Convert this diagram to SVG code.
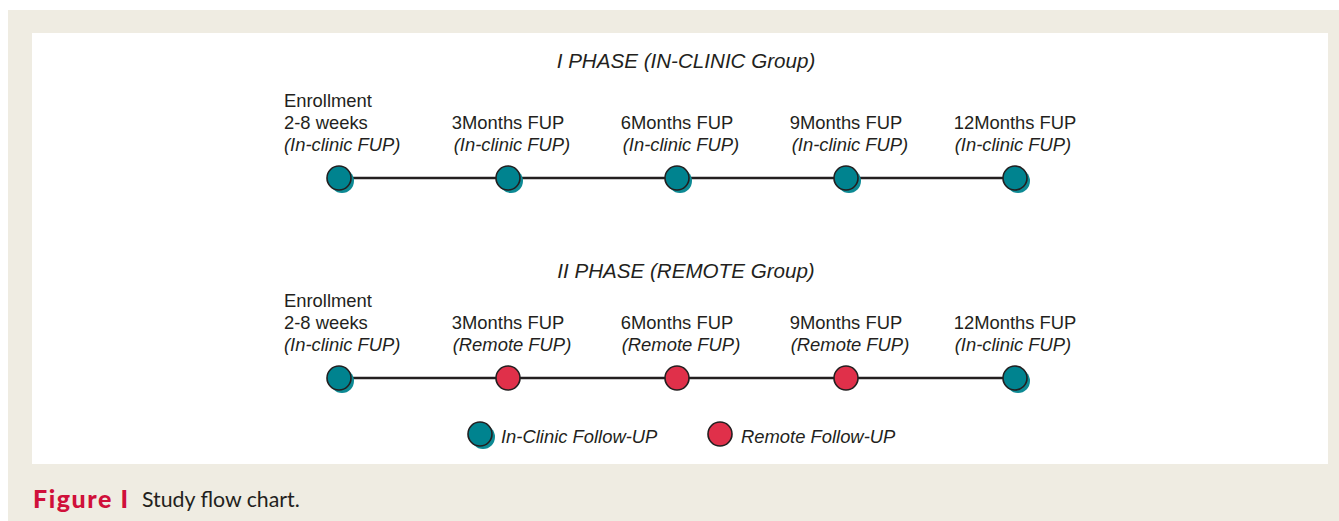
<svg xmlns="http://www.w3.org/2000/svg" width="1339" height="521" viewBox="0 0 1339 521">
<defs>
<style>
.t{font-family:"Liberation Sans",Arial,sans-serif;font-size:18.4px;fill:#231f20}
.i{font-style:italic}
.c{text-anchor:middle}
.ttl{font-family:"Liberation Sans",Arial,sans-serif;font-size:20.6px;font-style:italic;fill:#231f20;text-anchor:middle}
.ln{stroke:#231f20;stroke-width:2.5;fill:none}
.sh{fill:#0d8a94}
.tl{fill:#00838f;stroke:#231f20;stroke-width:1.6}
.rd{fill:#e0304a;stroke:#231f20;stroke-width:1.6}
</style>
<g id="clinic"><circle class="sh" cx="3" cy="3" r="12"/><circle class="tl" cx="0" cy="0" r="12"/></g>
<g id="remote"><circle class="rd" cx="0" cy="0" r="12"/></g>
</defs>
<rect x="8" y="10" width="1331" height="511" fill="#efece2"/>
<rect x="32" y="33" width="1296" height="431" fill="#ffffff"/>

<text class="ttl" x="686" y="68">I PHASE (IN-CLINIC Group)</text>
<text class="ttl" x="686" y="278">II PHASE (REMOTE Group)</text>

<g id="connectors">
<line class="ln" x1="339" y1="178" x2="1015" y2="178"/>
<line class="ln" x1="339" y1="378" x2="1015" y2="378"/>
</g>

<g id="p1n1"><use href="#clinic" x="339" y="178"/>
<text class="t" x="284" y="107">Enrollment</text><text class="t" x="284" y="129">2-8 weeks</text><text class="t i" x="284" y="151">(In-clinic FUP)</text></g>
<g id="p1n2"><use href="#clinic" x="508" y="178"/>
<text class="t c" x="508" y="129">3Months FUP</text><text class="t i c" x="512" y="151">(In-clinic FUP)</text></g>
<g id="p1n3"><use href="#clinic" x="677" y="178"/>
<text class="t c" x="677" y="129">6Months FUP</text><text class="t i c" x="681" y="151">(In-clinic FUP)</text></g>
<g id="p1n4"><use href="#clinic" x="846" y="178"/>
<text class="t c" x="846" y="129">9Months FUP</text><text class="t i c" x="850" y="151">(In-clinic FUP)</text></g>
<g id="p1n5"><use href="#clinic" x="1015" y="178"/>
<text class="t c" x="1015" y="129">12Months FUP</text><text class="t i c" x="1013" y="151">(In-clinic FUP)</text></g>

<g id="p2n1"><use href="#clinic" x="339" y="378"/>
<text class="t" x="284" y="307">Enrollment</text><text class="t" x="284" y="329">2-8 weeks</text><text class="t i" x="284" y="351">(In-clinic FUP)</text></g>
<g id="p2n2"><use href="#remote" x="508" y="378"/>
<text class="t c" x="508" y="329">3Months FUP</text><text class="t i c" x="512" y="351">(Remote FUP)</text></g>
<g id="p2n3"><use href="#remote" x="677" y="378"/>
<text class="t c" x="677" y="329">6Months FUP</text><text class="t i c" x="681" y="351">(Remote FUP)</text></g>
<g id="p2n4"><use href="#remote" x="846" y="378"/>
<text class="t c" x="846" y="329">9Months FUP</text><text class="t i c" x="850" y="351">(Remote FUP)</text></g>
<g id="p2n5"><use href="#clinic" x="1015" y="378"/>
<text class="t c" x="1015" y="329">12Months FUP</text><text class="t i c" x="1013" y="351">(In-clinic FUP)</text></g>

<g id="legend">
<use href="#clinic" x="480" y="434"/>
<text class="t i" x="501" y="443">In-Clinic Follow-UP</text>
<use href="#remote" x="720" y="434"/>
<text class="t i" x="741" y="443">Remote Follow-UP</text>
</g>

<g id="caption">
<text x="33" y="508" font-family="Lato,'Open Sans',sans-serif" font-size="25" font-weight="900" fill="#d0103a" textLength="95" lengthAdjust="spacing">Figure I</text>
<text x="142" y="507" font-family="Lato,'Open Sans',sans-serif" font-size="21.3" fill="#231f20">Study flow chart.</text>
</g>
</svg>
